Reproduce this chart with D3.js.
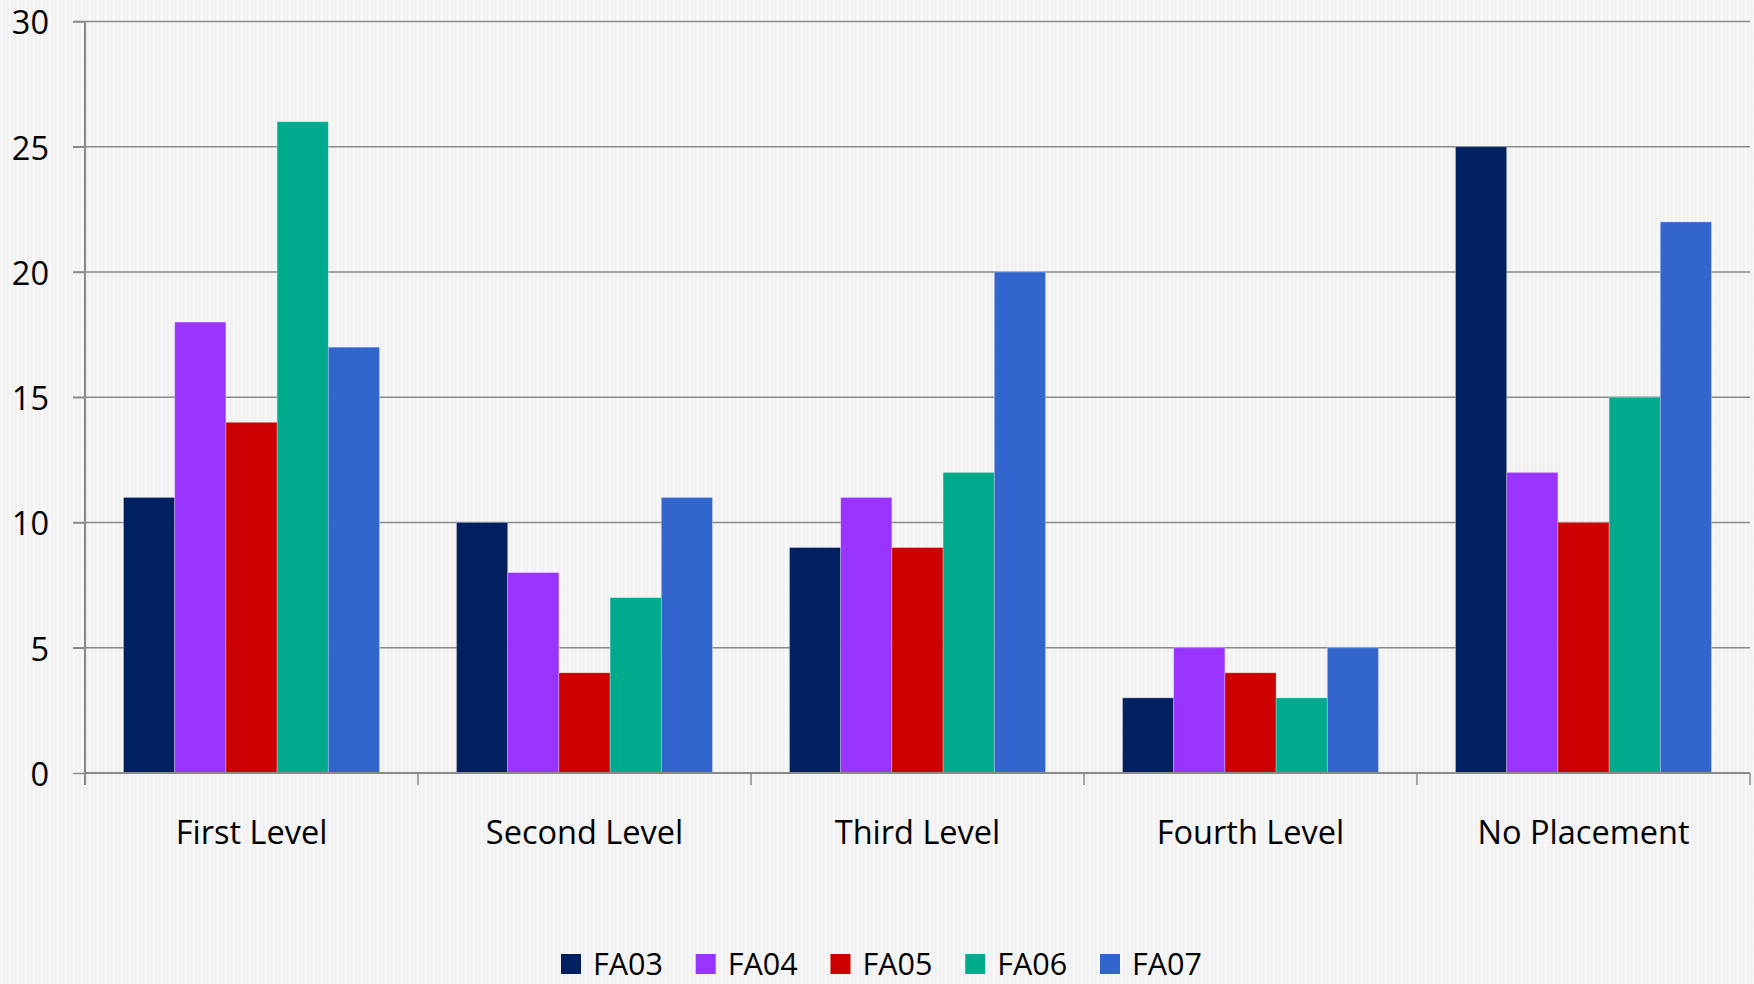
<!DOCTYPE html>
<html>
<head>
<meta charset="utf-8">
<script src="https://cdn.jsdelivr.net/npm/d3@7"></script>
<style>
  html, body { margin: 0; padding: 0; background: #f3f3f3; }
  svg { display: block; }
  text { font-family: "Open Sans", "Noto Sans", sans-serif; fill: #000; }
</style>
</head>
<body>
<svg id="chart" width="1754" height="984"></svg>
<script>
const categories = ["First Level", "Second Level", "Third Level", "Fourth Level", "No Placement"];
const seriesNames = ["FA03", "FA04", "FA05", "FA06", "FA07"];
const FA03 = [11, 10, 9, 3, 25];
const FA04 = [18, 8, 11, 5, 12];
const FA05 = [14, 4, 9, 4, 10];
const FA06 = [26, 7, 12, 3, 15];
const FA07 = [17, 11, 20, 5, 22];
const seriesValues = [FA03, FA04, FA05, FA06, FA07];
const colors = ["#002060", "#9933FF", "#CC0000", "#00AA8D", "#3366CC"];
const yTicks = [0, 5, 10, 15, 20, 25, 30];

const W = 1754, H = 984;
const plotLeft = 85, plotRight = 1750, plotTop = 21.5, plotBottom = 773;
const svg = d3.select("#chart");

// textured background
const defs = svg.append("defs");
const pat = defs.append("pattern").attr("id", "bgpat").attr("patternUnits", "userSpaceOnUse")
  .attr("width", 8).attr("height", 12);
pat.append("rect").attr("width", 8).attr("height", 12).attr("fill", "#f1f1f1");
pat.append("rect").attr("x", 1).attr("y", 0).attr("width", 2).attr("height", 12).attr("fill", "#f8f8f8");
pat.append("rect").attr("x", 5).attr("y", 0).attr("width", 1).attr("height", 12).attr("fill", "#f6f6f6");
pat.append("rect").attr("x", 0).attr("y", 5).attr("width", 4).attr("height", 1).attr("fill", "#fafafa");
svg.append("rect").attr("width", W).attr("height", H).attr("fill", "url(#bgpat)");

const x0 = d3.scaleBand().domain(categories).range([plotLeft, plotRight]).padding(0);
const x1 = d3.scaleBand().domain(seriesNames).range([0, x0.bandwidth()]).paddingInner(0).paddingOuter(0.752);
const y = d3.scaleLinear().domain([0, 30]).range([plotBottom, plotTop]);

// gridlines
svg.append("g").selectAll("line").data(yTicks.filter(d => d > 0)).join("line")
  .attr("x1", plotLeft - 12).attr("x2", plotRight)
  .attr("y1", d => y(d)).attr("y2", d => y(d))
  .attr("stroke", "#8a8a8a").attr("stroke-width", 1.5);

// y axis
const yAxis = d3.axisLeft(y).tickValues(yTicks).tickSize(12).tickPadding(24);
const gy = svg.append("g").attr("transform", `translate(${plotLeft},0)`).call(yAxis);
gy.select(".domain").remove();
gy.selectAll(".tick line").attr("stroke", "#8a8a8a").attr("stroke-width", 1.5);
gy.selectAll(".tick text").attr("font-size", 32.5).attr("dy", "0.38em")
  .style("font-family", '"Open Sans", sans-serif').attr("fill", "#000");
svg.append("line").attr("x1", plotLeft).attr("x2", plotLeft).attr("y1", plotTop).attr("y2", plotBottom + 12)
  .attr("stroke", "#8a8a8a").attr("stroke-width", 2);

// bars
const groups = svg.append("g").selectAll("g").data(categories).join("g")
  .attr("transform", d => `translate(${x0(d)},0)`);
groups.selectAll("rect").data((c, ci) => seriesNames.map((s, si) => ({ s, si, v: seriesValues[si][ci] })))
  .join("rect")
  .attr("x", d => x1(d.s)).attr("width", x1.bandwidth())
  .attr("y", d => y(d.v)).attr("height", d => y(0) - y(d.v))
  .attr("fill", d => colors[d.si])
  .attr("stroke", "rgba(255,255,255,0.35)").attr("stroke-width", 0.8);

// x axis
const xAxis = d3.axisBottom(x0).tickSize(0).tickPadding(0);
const gx = svg.append("g").attr("transform", `translate(0,${plotBottom})`).call(xAxis);
gx.select(".domain").remove();
gx.selectAll(".tick text").attr("font-size", 32.5).attr("y", 71).attr("dy", 0)
  .style("font-family", '"Open Sans", sans-serif').attr("fill", "#000");
svg.append("line").attr("x1", plotLeft).attr("x2", plotRight).attr("y1", plotBottom).attr("y2", plotBottom)
  .attr("stroke", "#8a8a8a").attr("stroke-width", 2);
const bounds = categories.map(c => x0(c)).concat([plotRight]);
svg.append("g").selectAll("line").data(bounds).join("line")
  .attr("x1", d => d).attr("x2", d => d).attr("y1", plotBottom).attr("y2", plotBottom + 12)
  .attr("stroke", "#8a8a8a").attr("stroke-width", 1.5);

// legend
const legendX = d3.scalePoint().domain(seriesNames).range([561, 1100]);
const lg = svg.append("g").selectAll("g").data(seriesNames).join("g")
  .attr("transform", d => `translate(${legendX(d)},954)`);
lg.append("rect").attr("width", 20).attr("height", 20).attr("fill", (d, i) => colors[i]);
lg.append("text").attr("x", 32).attr("y", 20.5).attr("font-size", 31)
  .attr("textLength", 70).attr("lengthAdjust", "spacingAndGlyphs").text(d => d);
</script>
</body>
</html>
